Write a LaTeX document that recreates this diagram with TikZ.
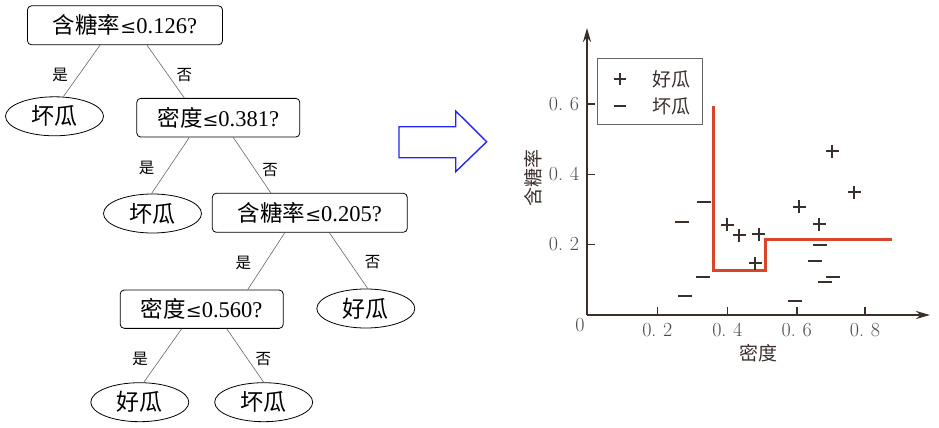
\documentclass[tikz,border=0pt]{standalone}
\usepackage{fontspec}
\setmainfont{Liberation Serif}
\newfontfamily\cjk{Noto Sans CJK SC}
\newfontfamily\lmr{Latin Modern Roman}
\newfontfamily\symf{DejaVu Serif}
\newcommand{\myle}{{\symf\fontsize{19}{24}\selectfont ≤}}
\usetikzlibrary{shapes.geometric,arrows.meta}
\definecolor{axiscol}{HTML}{3B2F2C}
\definecolor{redline}{HTML}{D9452B}
\definecolor{bluearrow}{HTML}{2424F5}
\definecolor{ticklab}{HTML}{4A4A4A}
\begin{document}
\begin{tikzpicture}[x=1pt,y=-1pt,
  tbox/.style={draw, rounded corners=4pt, line width=0.8pt, inner sep=0pt,
    font=\fontsize{22.5}{24}\selectfont},
  oval/.style={draw, ellipse, line width=0.8pt, inner sep=0pt,
    minimum width=98pt, minimum height=39pt, font=\fontsize{23}{24}\selectfont\cjk},
  edge/.style={draw=black!60, line width=0.6pt},
  lab/.style={font=\fontsize{15.5}{16}\selectfont\cjk, inner sep=0pt},
  tick/.style={font=\fontsize{20}{22}\selectfont\lmr, text=ticklab, inner sep=0pt},
  pt/.style={draw=axiscol, line width=2.2pt},
]
\useasboundingbox (0,0) rectangle (939,428);

% ---------------- tree ----------------
\node[tbox, minimum width=195pt, minimum height=39pt] (root) at (125,25.3) {{\cjk 含糖率}\myle0.126?};
\node[oval] (bad1) at (54.5,116.3) {坏瓜};
\node[tbox, minimum width=163pt, minimum height=38.7pt] (b2) at (218.3,117.7) {{\cjk 密度}\myle0.381?};
\node[oval] (bad2) at (152.5,213.5) {坏瓜};
\node[tbox, minimum width=195pt, minimum height=39pt] (b3) at (309.8,212.8) {{\cjk 含糖率}\myle0.205?};
\node[tbox, minimum width=163pt, minimum height=38.3pt] (b4) at (201.7,309.2) {{\cjk 密度}\myle0.560?};
\node[oval] (good1) at (365.8,308.5) {好瓜};
\node[oval] (good2) at (139.8,402.2) {好瓜};
\node[oval] (bad3) at (263.7,402.2) {坏瓜};

\path[edge] ([xshift=-25pt]root.south) -- ([xshift=9pt]bad1.north);
\path[edge] ([xshift=22pt]root.south) -- ([xshift=-34pt]b2.north);
\path[edge] ([xshift=-29pt]b2.south) -- ([xshift=-1pt]bad2.north);
\path[edge] ([xshift=15pt]b2.south) -- ([xshift=-39pt]b3.north);
\path[edge] ([xshift=-25pt]b3.south) -- ([xshift=46pt]b4.north);
\path[edge] ([xshift=19.5pt]b3.south) -- ([xshift=2pt]good1.north);
\path[edge] ([xshift=-20pt]b4.south) -- ([xshift=4pt]good2.north);
\path[edge] ([xshift=25pt]b4.south) -- ([xshift=0pt]bad3.north);

\node[lab] (l1) at (60,75) {是};
\node[lab] (l2) at (184.3,75) {否};
\node[lab] (l3) at (146.7,168.3) {是};
\node[lab] (l4) at (270,170) {否};
\node[lab] (l5) at (243.3,263.3) {是};
\node[lab] (l6) at (372.7,261.7) {否};
\node[lab] (l7) at (140,359.3) {是};
\node[lab] (l8) at (263.3,359.3) {否};

% ---------------- blue arrow ----------------
\draw[bluearrow, line width=1.4pt, line join=miter]
  (399,126.7) -- (455.7,126.7) -- (455.7,111) -- (486.7,141.7) -- (455.7,171.7)
  -- (455.7,157.7) -- (399,157.7) -- cycle;

% ---------------- plot ----------------
\coordinate (O) at (587,315);
\coordinate (xend) at (930,315);
\coordinate (yend) at (587,28);
\draw[axiscol, line width=2.4pt, -{Stealth[length=14pt,width=8pt]}] (O) -- (xend);
\draw[axiscol, line width=2.4pt, -{Stealth[length=14pt,width=8pt]}] (O) -- (yend);
% x ticks
\foreach \xx in {657.3, 727.3, 796.7, 865}{
  \draw[axiscol, line width=1.6pt] (\xx,315) -- (\xx,307);
}
\node[tick] (x2) at (657.3,330) {0.\,\,2};
\node[tick] (x4) at (727.3,330) {0.\,\,4};
\node[tick] (x6) at (796.7,330) {0.\,\,6};
\node[tick] (x8) at (865,330) {0.\,\,8};
\node[tick] (x0) at (580,325) {0};
% y ticks
\foreach \yy in {244.3,174.3,104}{
  \draw[axiscol, line width=1.6pt] (587,\yy) -- (595,\yy);
}
\node[tick] (y2) at (564,244.3) {0.\,\,2};
\node[tick] (y4) at (564,174.3) {0.\,\,4};
\node[tick] (y6) at (564,104) {0.\,\,6};
% axis titles
\node[font=\fontsize{19}{20}\selectfont\cjk, text=axiscol, inner sep=0pt] (xt) at (758,353) {密度};
\node[font=\fontsize{19}{20}\selectfont\cjk, text=axiscol, inner sep=0pt, rotate=90] (yt) at (533,178) {含糖率};

% legend
\node[draw=black!60, line width=0.9pt, minimum width=105.4pt, minimum height=65.7pt, inner sep=0pt] (leg) at (650,91.2) {};
\draw[pt, line width=1.8pt] (614,79.3) -- (626,79.3) (620,73.3) -- (620,85.3);
\draw[pt, line width=1.8pt] (614,106) -- (626,106);
\node[font=\fontsize{19}{20}\selectfont\cjk, text=axiscol, inner sep=0pt] (lg1) at (671,79.3) {好瓜};
\node[font=\fontsize{19}{20}\selectfont\cjk, text=axiscol, inner sep=0pt] (lg2) at (671,106) {坏瓜};

% decision boundary
\draw[redline, line width=3pt, line join=miter]
  (713.3,106) -- (713.3,270.5) -- (765,270.5) -- (765,239.3) -- (891.7,239.3);

% good melons (+)
\foreach \px/\py in {799.3/206.7, 832.3/151, 854.3/192, 819/224, 727.3/224.7, 739.3/235, 758.7/234.3, 755.3/263.3}{
  \draw[pt] (\px-6.5,\py) -- (\px+6.5,\py) (\px,\py-6.5) -- (\px,\py+6.5);
}
% bad melons (-)
\foreach \px/\py in {682.3/221.7, 704.3/202, 703.3/277.3, 685/295.7, 820/245, 815/261, 825/281.7, 833.3/276.7, 795/300.7}{
  \draw[pt] (\px-7,\py) -- (\px+7,\py);
}
\end{tikzpicture}
\end{document}
